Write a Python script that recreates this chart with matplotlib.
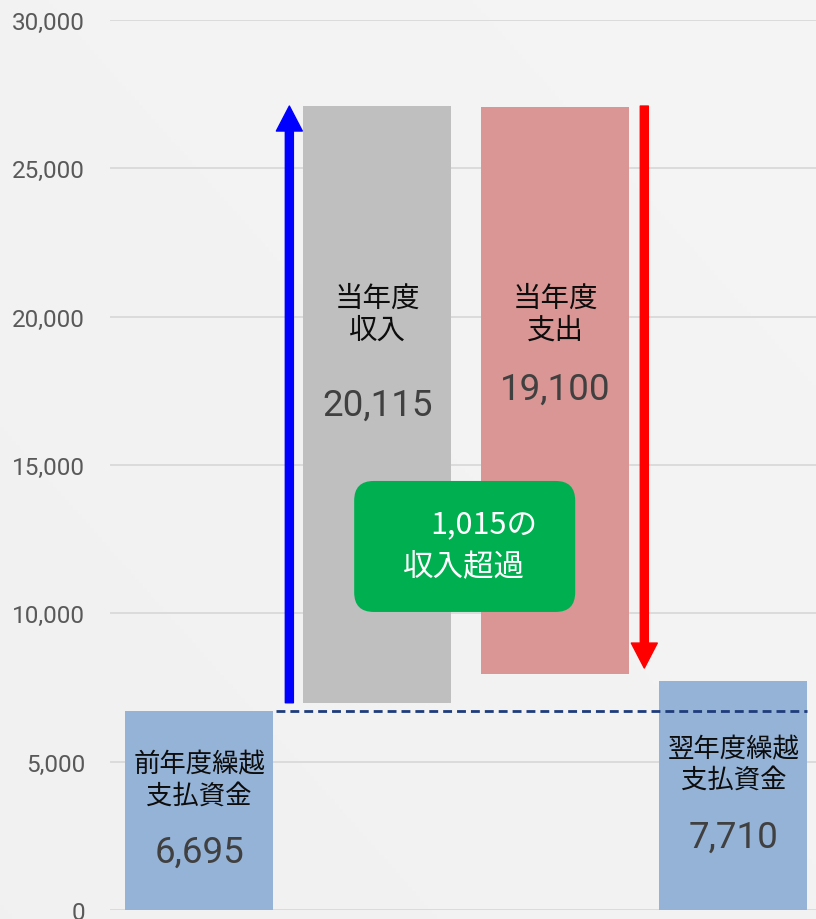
import matplotlib
matplotlib.use("Agg")
import matplotlib.pyplot as plt
from matplotlib.patches import FancyArrowPatch, FancyBboxPatch
from matplotlib.ticker import FuncFormatter
import numpy as np

# ---- data ----
categories = ["前年度繰越\n支払資金", "当年度\n収入", "当年度\n支出", "翌年度繰越\n支払資金"]
values = [6695, 20115, 19100, 7710]
bases = [0, 6985, 7965, 0]
bar_colors = ["#95B3D7", "#BFBFBF", "#D99694", "#95B3D7"]
surplus = values[1] - values[2]
yticks = [0, 5000, 10000, 15000, 20000, 25000, 30000]

CJK = "Noto Sans CJK JP"
NUM = "Roboto"

W, H = 816, 920
fig = plt.figure(figsize=(W / 100, H / 100), dpi=100, facecolor="#F3F3F3")

# subtle background gradient
bg = fig.add_axes([0, 0, 1, 1], zorder=-10)
yy, xx = np.mgrid[0:1:200j, 0:1:200j]
g = 0.945 + 0.015 * (0.5 * xx + 0.5 * (1 - yy))
bg.imshow(np.dstack([g, g, g]), extent=[0, 1, 0, 1], aspect="auto", origin="upper")
bg.axis("off")

ax = fig.add_axes([110 / W, 9 / H, 712.4 / W, 890 / H])
ax.set_facecolor("none")
ax.set_xlim(-0.5, 3.5)
ax.set_ylim(0, 30000)
ax.set_yticks(yticks)
ax.yaxis.set_major_formatter(FuncFormatter(lambda v, p: f"{int(v):,}"))
ax.tick_params(axis="y", length=0, pad=18, labelsize=17.5, labelcolor="#595959")
for lab in ax.get_yticklabels():
    lab.set_fontfamily(NUM)
ax.set_xticks([])
for s in ax.spines.values():
    s.set_visible(False)
ax.grid(axis="y", color="#D9D9D9", lw=1.3)
ax.set_axisbelow(True)

x = np.arange(len(categories))
width = 0.83
ax.bar(x, values, bottom=bases, width=width, color=bar_colors, zorder=2)

# arrows
blue = FancyArrowPatch((0.507, bases[1]), (0.507, bases[1] + values[1]),
                       arrowstyle="simple,tail_width=5.8,head_width=18.7,head_length=18",
                       mutation_scale=1, shrinkA=0, shrinkB=0, color="#0000FF", zorder=4)
ax.add_patch(blue)
red = FancyArrowPatch((2.5, bases[1] + values[1]), (2.5, bases[2] + 190),
                      arrowstyle="simple,tail_width=5.8,head_width=18.7,head_length=18",
                      mutation_scale=1, shrinkA=0, shrinkB=0, color="#FF0000", zorder=4)
ax.add_patch(red)

# dashed carry-over line
ax.plot([0.43, 3 + width / 2], [values[0], values[0]], color="#1F3C7C", lw=2.0,
        ls=(0, (3.2, 1.8)), zorder=5)

# green box
box = FancyBboxPatch((0.871, 10046), 2.112 - 0.871, 14462 - 10046,
                     boxstyle="round,pad=0,rounding_size=0.11", mutation_aspect=6003,
                     facecolor="#00B050", edgecolor="none", zorder=6)
ax.add_patch(box)
ax.text(1.60, 13011, f"{surplus:,}の", ha="center", va="center", color="white",
        fontsize=22, family=[CJK, "DejaVu Sans"], zorder=7)
ax.text(1.489, 11562, "収入超過", ha="center", va="center", color="white",
        fontsize=22, family=[CJK, "DejaVu Sans"], zorder=7)

# bar labels
def label_lines(xc, lines, ys, size):
    for t, yv in zip(lines, ys):
        ax.text(xc, yv, t, ha="center", va="center", color="#0D0D0D",
                fontsize=size, family=[CJK, "DejaVu Sans"], zorder=3)

label_lines(0, categories[0].split("\n"), [4930, 3880], 19)
label_lines(1, categories[1].split("\n"), [20629, 19551], 20.5)
label_lines(2, categories[2].split("\n"), [20629, 19551], 20.5)
label_lines(3, categories[3].split("\n"), [5430, 4420], 19)

num_y = [1955, 17022, 17562, 2461]
for xi, v, yv in zip(x, values, num_y):
    ax.text(xi, yv, f"{v:,}", ha="center", va="center", color="#404040",
            fontsize=26.5, family=NUM, zorder=3)

fig.savefig("out.png", dpi=100, facecolor=fig.get_facecolor())
